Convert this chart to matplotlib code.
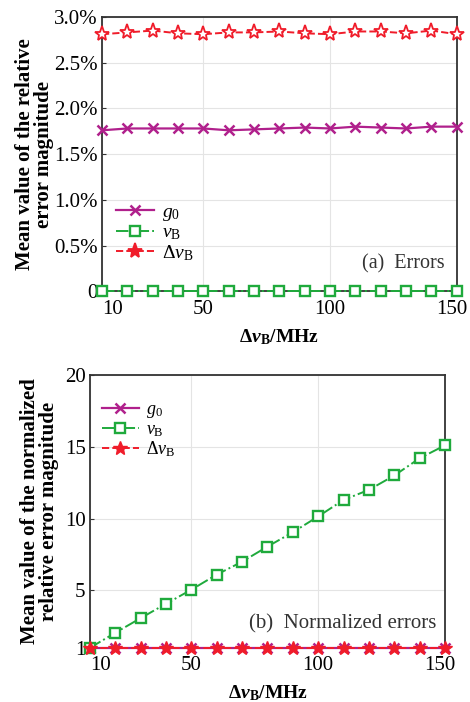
import matplotlib
matplotlib.use('Agg')
import matplotlib.pyplot as plt
from matplotlib.transforms import ScaledTranslation

plt.rcParams['font.family'] = ['Liberation Serif', 'DejaVu Serif']
plt.rcParams['mathtext.fontset'] = 'custom'
plt.rcParams['mathtext.rm'] = 'Liberation Serif'
plt.rcParams['mathtext.it'] = 'Liberation Serif:italic'
plt.rcParams['mathtext.bf'] = 'Liberation Serif:bold'
plt.rcParams['mathtext.bfit'] = 'Liberation Serif:bold:italic'

# 线宽 ΔνB (MHz)
dv = [10, 20, 30, 40, 50, 60, 70, 80, 90, 100, 110, 120, 130, 140, 150]

# (a) 相对误差均值, %
err_g0 = [1.76, 1.78, 1.78, 1.78, 1.78, 1.76, 1.77, 1.78, 1.79, 1.78, 1.80, 1.79, 1.78, 1.80, 1.80]
err_vb = [0, 0, 0, 0, 0, 0, 0, 0, 0, 0, 0, 0, 0, 0, 0]
err_dv = [2.81, 2.83, 2.85, 2.82, 2.81, 2.83, 2.83, 2.84, 2.82, 2.81, 2.84, 2.84, 2.82, 2.85, 2.81]

# (b) 归一化相对误差均值
norm_g0 = [1] * 15
norm_vb = [1.0, 2.05, 3.07, 4.07, 5.05, 6.1, 7.0, 8.05, 9.05, 10.15, 11.3, 12.0, 13.0, 14.2, 15.1]
norm_dv = [1] * 15

xticks = [10, 50, 100, 150]
yticks_a = [0, 0.5, 1.0, 1.5, 2.0, 2.5, 3.0]
ylabels_a = ['0', '0.5%', '1.0%', '1.5%', '2.0%', '2.5%', '3.0%']
yticks_b = [1, 5, 10, 15, 20]

c_g0 = '#b0208c'
c_vb = '#1faa3c'
c_dv = '#f01c2a'
xlab = r'$\mathbf{\Delta}\mathbfit{\nu}_\mathbf{B}$/MHz'
labels = [r'$g_0$', r'$\nu_\mathrm{B}$', r'$\Delta\nu_\mathrm{B}$']

fig = plt.figure(figsize=(4.70, 7.02), dpi=100)
ax1 = fig.add_axes([0.217, 0.585, 0.755, 0.391])
ax2 = fig.add_axes([0.191, 0.077, 0.756, 0.389])


def style(ax, yticks, ylim):
    ax.set_xlim(10, 150)
    ax.set_ylim(*ylim)
    ax.set_xticks(xticks)
    ax.set_yticks(yticks)
    ax.grid(True, color='#e4e4e4', linewidth=0.8)
    ax.set_axisbelow(True)
    for s in ax.spines.values():
        s.set_color('#333333')
        s.set_linewidth(1.3)
    ax.tick_params(direction='in', length=3, labelsize=15, color='#333333', pad=3)
    ax.tick_params(axis='x', pad=6)
    ax.set_xlabel(xlab, fontsize=14, fontweight='bold', labelpad=6)
    # 端点刻度标签往里挪一点
    tl = ax.get_xticklabels()
    tl[0].set_horizontalalignment('left')
    tl[-1].set_transform(tl[-1].get_transform() + ScaledTranslation(-0.05, 0, fig.dpi_scale_trans))


# (a)
ax1.plot(dv, err_g0, color=c_g0, lw=1.6, marker='x', ms=7, mew=1.8, label=labels[0], clip_on=False, zorder=4)
ax1.plot(dv, err_vb, color=c_vb, lw=1.4, ls='-.', marker='s', ms=7, mfc='white', mew=1.7, label=labels[1], clip_on=False, zorder=4)
ax1.plot(dv, err_dv, color=c_dv, lw=1.4, ls='--', marker='*', ms=11, mfc='white', mew=1.3, label=labels[2], clip_on=False, zorder=4)
style(ax1, yticks_a, (0, 3.0))
ax1.set_yticklabels(ylabels_a)
ax1.set_ylabel('Mean value of the relative\nerror magnitude', fontsize=15, fontweight='bold', linespacing=0.95, labelpad=0)
leg = ax1.legend(loc='upper left', bbox_to_anchor=(0.0, 0.37), frameon=False, fontsize=14,
                 handlelength=2.0, handletextpad=0.4, labelspacing=0.05, borderaxespad=0.3)
leg.legend_handles[2].set_markerfacecolor(c_dv)
ax1.text(0.965, 0.10, '(a)  Errors', transform=ax1.transAxes, ha='right', va='center', fontsize=14.5, color='#333333')

# (b)
ax2.plot(dv, norm_g0, color=c_g0, lw=1.6, marker='x', ms=7, mew=1.8, label=labels[0], clip_on=False, zorder=4)
ax2.plot(dv, norm_vb, color=c_vb, lw=1.4, ls='-.', marker='s', ms=7, mfc='white', mew=1.7, label=labels[1], clip_on=False, zorder=4)
ax2.plot(dv, norm_dv, color=c_dv, lw=1.4, ls='--', marker='*', ms=10, mew=1.0, label=labels[2], clip_on=False, zorder=5)
style(ax2, yticks_b, (1, 20))
ax2.set_ylabel('Mean value of the normalized\nrelative error magnitude', fontsize=15, fontweight='bold', linespacing=0.95, labelpad=4)
ax2.legend(loc='upper left', bbox_to_anchor=(0.0, 0.95), frameon=False, fontsize=13,
           handlelength=2.0, handletextpad=0.4, labelspacing=0.05, borderaxespad=0.3)
ax2.text(0.975, 0.09, '(b)  Normalized errors', transform=ax2.transAxes, ha='right', va='center', fontsize=15, color='#333333')

fig.savefig('out.png', dpi=100)
